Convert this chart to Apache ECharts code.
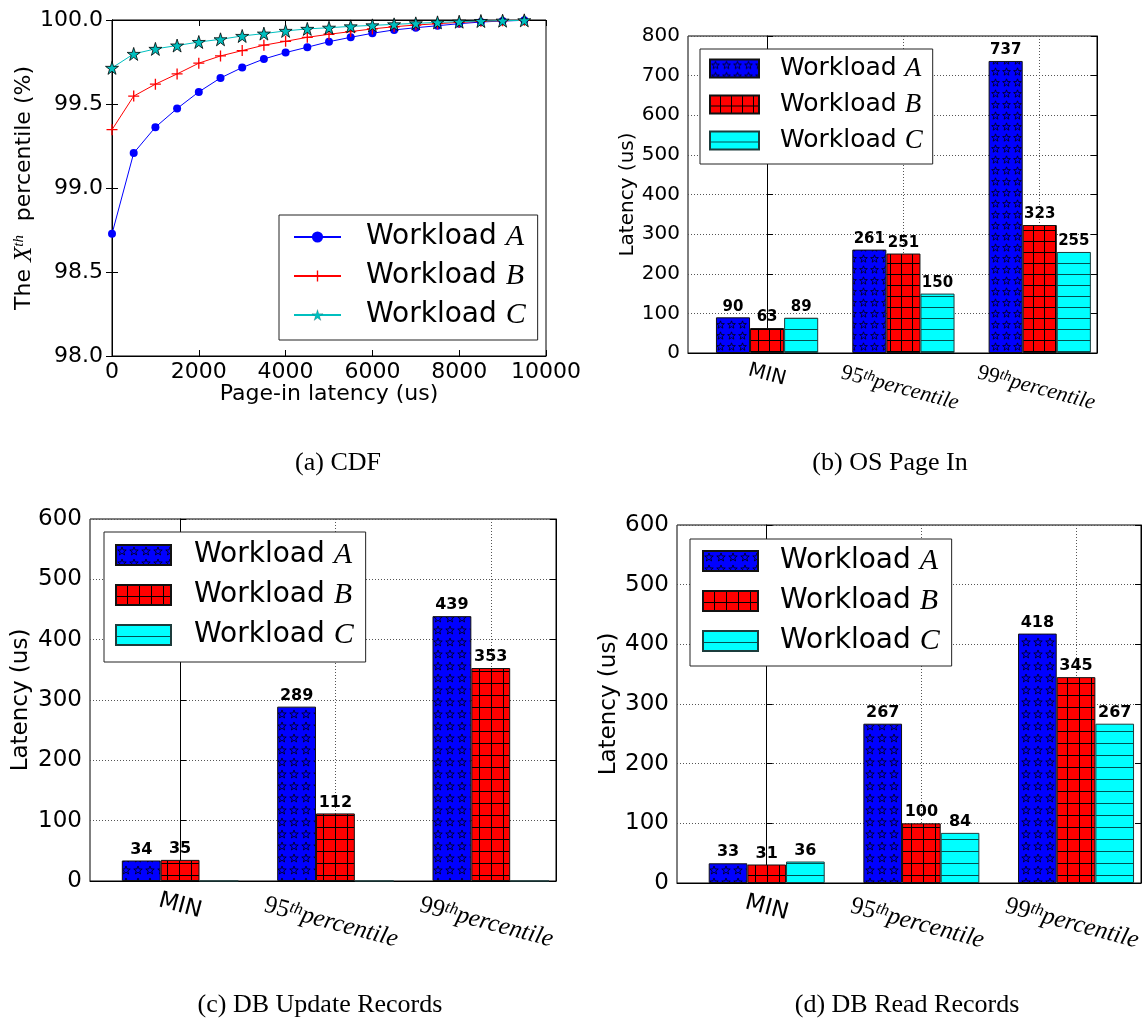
<!DOCTYPE html>
<html>
<head>
<meta charset="utf-8">
<title>Page-in and DB latency</title>
<script src="https://cdn.jsdelivr.net/npm/echarts@6/dist/echarts.min.js"></script>
<style>
  html, body { margin: 0; padding: 0; background: #fff; }
  #chart { width: 1145px; height: 1021px; }
</style>
</head>
<body>
<div id="chart"></div>
<script>
  // (a) CDF of page-in latency
  const cdfLatency = [0, 500, 1000, 1500, 2000, 2500, 3000, 3500, 4000, 4500,
    5000, 5500, 6000, 6500, 7000, 7500, 8000, 8500, 9000, 9500];
  const cdfA = [98.727, 99.208, 99.362, 99.473, 99.572, 99.655, 99.717, 99.768, 99.806, 99.838,
    99.871, 99.897, 99.921, 99.941, 99.954, 99.966, 99.978, 99.988, 99.994, 99.998];
  const cdfB = [99.347, 99.547, 99.618, 99.679, 99.743, 99.786, 99.818, 99.850, 99.873, 99.897,
    99.915, 99.931, 99.947, 99.960, 99.970, 99.978, 99.986, 99.992, 99.996, 99.998];
  const cdfC = [99.715, 99.798, 99.828, 99.848, 99.869, 99.885, 99.905, 99.919, 99.935, 99.947,
    99.954, 99.962, 99.968, 99.974, 99.980, 99.986, 99.990, 99.994, 99.996, 99.998];

  // (b)-(d) latency bars
  const barCategories = ['MIN', '95th percentile', '99th percentile'];
  const workloads = ['Workload A', 'Workload B', 'Workload C'];
  const pageInA = [90, 261, 737];
  const pageInB = [63, 251, 323];
  const pageInC = [89, 150, 255];
  const updateA = [34, 289, 439];
  const updateB = [35, 112, 353];
  const updateC = [0, 0, 0];
  const readA = [33, 267, 418];
  const readB = [31, 100, 345];
  const readC = [36, 84, 267];

  const SANS = '"DejaVu Sans", sans-serif';
  const SERIF = '"Liberation Serif", "DejaVu Serif", serif';

  const STAR = 'path://M50,0L61.23,34.55L97.55,34.55L68.16,55.9L79.39,90.45L50,69.1L20.61,90.45L31.84,55.9L2.45,34.55L38.77,34.55Z';
  const PLUS = 'path://M4.4,0H5.6V4.4H10V5.6H5.6V10H4.4V5.6H0V4.4H4.4Z';

  const axisLine = { show: true, lineStyle: { color: '#000', width: 1 } };
  const tick = { show: true, inside: true, length: 6, lineStyle: { color: '#000', width: 1 } };
  const dotted = { show: true, lineStyle: { color: '#555', width: 1, type: [1, 2] } };

  const option = {
    animation: false,
    backgroundColor: '#fff',
    grid: [], xAxis: [], yAxis: [], series: [], legend: [], graphic: []
  };

  function frameGrid(rect) {
    return Object.assign({
      show: true, borderColor: '#000', borderWidth: 1, backgroundColor: 'transparent',
      containLabel: false, outerBoundsMode: 'none'
    }, rect);
  }

  function legendLabel(name) {
    return '{g| }{n|Workload }{m|' + name.slice(-1) + '}';
  }

  function legendBox(names, pos, fs, lineH, gap) {
    return Object.assign({
      data: names, orient: 'vertical', align: 'left', icon: 'rect', selectedMode: false,
      backgroundColor: '#fff', borderColor: '#222', borderWidth: 1, borderRadius: 0,
      formatter: legendLabel,
      textStyle: {
        color: '#000',
        rich: {
          g: { width: gap, fontSize: fs, lineHeight: lineH },
          n: { fontFamily: SANS, fontSize: fs, lineHeight: lineH, color: '#000' },
          m: { fontFamily: SERIF, fontStyle: 'italic', fontSize: fs + 2, lineHeight: lineH, color: '#000' }
        }
      }
    }, pos);
  }

  // ---------- (a) CDF ----------
  option.grid.push(frameGrid({ left: 112, top: 20, width: 434, height: 336 }));
  option.xAxis.push({
    gridIndex: 0, type: 'value', min: 0, max: 10000, interval: 2000,
    name: 'Page-in latency (us)', nameLocation: 'middle', nameGap: 27, nameMoveOverlap: false,
    nameTextStyle: { fontFamily: SANS, fontSize: 22, color: '#000' },
    axisLine: axisLine, axisTick: tick,
    axisLabel: { fontFamily: SANS, fontSize: 22, color: '#000', margin: 5, formatter: v => String(v) },
    splitLine: { show: false }
  }, {
    gridIndex: 0, type: 'value', position: 'top', min: 0, max: 10000, interval: 2000,
    axisLine: axisLine, axisTick: tick, axisLabel: { show: false }, splitLine: { show: false }
  });
  option.yAxis.push({
    gridIndex: 0, type: 'value', min: 98, max: 100, interval: 0.5,
    name: '{n|The }{x|X}{s|th}{n|  percentile (%)}',
    nameLocation: 'middle', nameGap: 75, nameMoveOverlap: false,
    nameTextStyle: {
      color: '#000',
      rich: {
        n: { fontFamily: SANS, fontSize: 22, color: '#000' },
        x: { fontFamily: SERIF, fontStyle: 'italic', fontSize: 25, color: '#000' },
        s: { fontFamily: SERIF, fontStyle: 'italic', fontSize: 15, color: '#000', verticalAlign: 'top' }
      }
    },
    axisLine: axisLine, axisTick: tick,
    axisLabel: { fontFamily: SANS, fontSize: 22, color: '#000', margin: 9, formatter: v => v.toFixed(1) },
    splitLine: { show: false }
  }, {
    gridIndex: 0, type: 'value', position: 'right', min: 98, max: 100, interval: 0.5,
    axisLine: axisLine, axisTick: tick, axisLabel: { show: false }, splitLine: { show: false }
  });

  const cdfStyles = [
    { data: cdfA, color: '#0000ff', symbol: 'circle', size: 8 },
    { data: cdfB, color: '#ff0000', symbol: PLUS, size: 11 },
    { data: cdfC, color: '#00bfbf', symbol: STAR, size: 13, border: '#000' }
  ];
  cdfStyles.forEach((s, i) => {
    option.series.push({
      name: 'a:' + workloads[i], type: 'line', xAxisIndex: 0, yAxisIndex: 0,
      data: cdfLatency.map((x, j) => [x, s.data[j]]),
      symbol: s.symbol, symbolSize: s.size, showAllSymbol: true, clip: false,
      lineStyle: { color: s.color, width: 1 },
      itemStyle: { color: s.color, borderColor: s.border || s.color, borderWidth: s.border ? 0.8 : 0 },
      emphasis: { disabled: true }
    });
  });
  const legendA = legendBox([
    { name: 'a:' + workloads[0] },
    { name: 'a:' + workloads[1] },
    { name: 'a:' + workloads[2], itemStyle: { borderWidth: 0.15 } }
  ], { left: 279, top: 215 }, 28, 30, 20);
  legendA.icon = undefined;
  option.legend.push(Object.assign(legendA,
    { itemWidth: 47, itemHeight: 14, itemGap: 9, padding: [7, 12, 10, 14] }));

  // ---------- hatch fills for the bar panels ----------
  function hatchTile(cell, bg, draw) {
    const c = document.createElement('canvas');
    c.width = cell;
    c.height = cell;
    const g = c.getContext('2d');
    g.fillStyle = bg;
    g.fillRect(0, 0, cell, cell);
    draw(g, cell);
    return { image: c, repeat: 'repeat' };
  }
  function starHatch(cell) {
    return hatchTile(cell, '#0000ff', (g, n) => {
      const r = n * 0.37, cx = n / 2, cy = n / 2 + 0.4;
      g.beginPath();
      for (let k = 0; k < 10; k++) {
        const ang = (-90 + 36 * k) * Math.PI / 180;
        const rr = k % 2 ? r * 0.42 : r;
        const px = cx + rr * Math.cos(ang), py = cy + rr * Math.sin(ang);
        if (k === 0) g.moveTo(px, py); else g.lineTo(px, py);
      }
      g.closePath();
      g.lineWidth = 0.75;
      g.strokeStyle = '#000';
      g.stroke();
    });
  }
  function gridHatch(cell) {
    return hatchTile(cell, '#ff0000', (g, n) => {
      g.fillStyle = '#000';
      g.fillRect(n - 1, 0, 1, n);
      g.fillRect(0, n - 1, n, 1);
    });
  }
  function lineHatch(cell) {
    return hatchTile(cell, '#00ffff', (g, n) => {
      g.fillStyle = 'rgba(0,50,50,0.85)';
      g.fillRect(0, n - 1, n, 1);
    });
  }

  function catLabel(v) {
    const text = barCategories[Math.round(v)];
    const m = /^(\d+)th (.+)$/.exec(text);
    if (!m) return '{sans|' + text + '}';
    return '{pad| }\n{num|' + m[1] + '}{sup|th}{it|' + m[2] + '}';
  }

  function addBarPanel(p) {
    const gi = option.grid.length;
    option.grid.push(frameGrid(p.rect));
    const xi = option.xAxis.length;
    option.xAxis.push({
      gridIndex: gi, type: 'value', min: -0.58, max: 2.42,
      axisLine: axisLine,
      axisTick: { show: false, customValues: [0, 1, 2] },
      axisLabel: {
        customValues: [0, 1, 2], formatter: catLabel, rotate: -15,
        align: 'center', verticalAlign: 'middle', margin: p.labelMargin, color: '#000',
        rich: {
          sans: { fontFamily: SANS, fontSize: p.fs, color: '#000' },
          pad: { fontSize: 4, lineHeight: p.padLine },
          num: { fontFamily: SERIF, fontSize: p.mathFs, color: '#000' },
          sup: { fontFamily: SERIF, fontStyle: 'italic', fontSize: Math.round(p.mathFs * 0.68), color: '#000', verticalAlign: 'top' },
          it: { fontFamily: SERIF, fontStyle: 'italic', fontSize: p.mathFs, color: '#000' }
        }
      },
      splitLine: dotted
    });
    const yi = option.yAxis.length;
    option.yAxis.push({
      gridIndex: gi, type: 'value', min: 0, max: p.yMax, interval: 100,
      name: 'Latency (us)', nameLocation: 'middle', nameGap: p.nameGap, nameMoveOverlap: false,
      nameTextStyle: { fontFamily: SANS, fontSize: p.fs, color: '#000' },
      axisLine: axisLine, axisTick: tick,
      axisLabel: { fontFamily: SANS, fontSize: p.fs, color: '#000', margin: 8 },
      splitLine: dotted
    }, {
      gridIndex: gi, type: 'value', position: 'right', min: 0, max: p.yMax, interval: 100,
      axisLine: axisLine, axisTick: tick, axisLabel: { show: false }, splitLine: { show: false }
    });

    const fills = [starHatch(p.cell), gridHatch(p.cell), lineHatch(p.cell)];
    const edges = ['#111', '#111', '#1c3c3c'];
    [p.a, p.b, p.c].forEach((vals, i) => {
      option.series.push({
        name: p.key + ':' + workloads[i], type: 'bar', xAxisIndex: xi, yAxisIndex: yi,
        data: vals.map((v, j) => [j, v]),
        barWidth: '25%', barGap: '0%',
        itemStyle: { color: fills[i], borderColor: edges[i], borderWidth: 1 },
        label: {
          show: true, position: 'top', distance: 3, color: '#000',
          fontFamily: SANS, fontWeight: 'bold', fontSize: p.valueFs,
          formatter: q => (q.value[1] > 0 ? String(q.value[1]) : '')
        },
        emphasis: { disabled: true }
      });
    });
    option.legend.push(Object.assign(
      legendBox(workloads.map(w => p.key + ':' + w), p.legendPos, p.legendFs, p.legendLine, p.legendGap),
      p.legendItem
    ));
  }

  addBarPanel({
    key: 'b', rect: { left: 688, top: 36, width: 409, height: 317 }, yMax: 800,
    a: pageInA, b: pageInB, c: pageInC,
    fs: 20, mathFs: 22, valueFs: 15, nameGap: 50, labelMargin: 22, padLine: 27, cell: 11,
    legendPos: { left: 700, top: 49 }, legendFs: 25, legendLine: 26, legendGap: 16,
    legendItem: { itemWidth: 49, itemHeight: 18, itemGap: 9, padding: [6, 10, 10, 9] }
  });
  addBarPanel({
    key: 'c', rect: { left: 90, top: 519, width: 466, height: 362 }, yMax: 600,
    a: updateA, b: updateB, c: updateC,
    fs: 23, mathFs: 25, valueFs: 16, nameGap: 57, labelMargin: 25, padLine: 34, cell: 12,
    legendPos: { left: 104, top: 532 }, legendFs: 28, legendLine: 30, legendGap: 18,
    legendItem: { itemWidth: 55, itemHeight: 20, itemGap: 10, padding: [8, 12, 12, 11] }
  });
  addBarPanel({
    key: 'd', rect: { left: 677, top: 525, width: 464, height: 358 }, yMax: 600,
    a: readA, b: readB, c: readC,
    fs: 23, mathFs: 25, valueFs: 16, nameGap: 56, labelMargin: 25, padLine: 32, cell: 12,
    legendPos: { left: 690, top: 539 }, legendFs: 28, legendLine: 30, legendGap: 17,
    legendItem: { itemWidth: 55, itemHeight: 20, itemGap: 10, padding: [7, 12, 10, 12] }
  });

  // sub-figure captions
  const captions = [
    ['(a) CDF', 338, 463], ['(b) OS Page In', 890, 463],
    ['(c) DB Update Records', 320, 1005], ['(d) DB Read Records', 907, 1005]
  ];
  captions.forEach(c => {
    option.graphic.push({
      type: 'text', x: c[1], y: c[2], silent: true,
      style: { text: c[0], font: '26px "Liberation Serif"', fill: '#000', align: 'center', verticalAlign: 'middle' }
    });
  });

  const chart = echarts.init(document.getElementById('chart'), null, { renderer: 'canvas' });
  chart.setOption(option);
  window.addEventListener('resize', () => chart.resize());
</script>
</body>
</html>
